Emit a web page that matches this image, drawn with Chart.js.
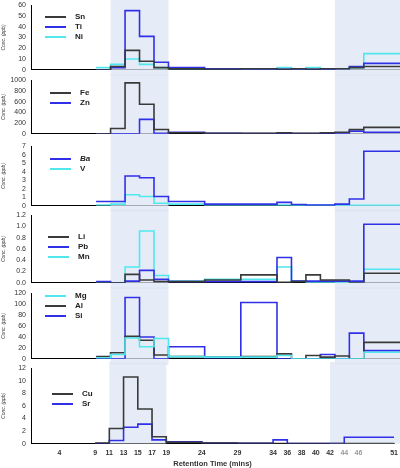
<!DOCTYPE html>
<html><head><meta charset="utf-8">
<script src="https://cdn.jsdelivr.net/npm/chart.js@4/dist/chart.umd.min.js"></script>
<style>
body{margin:0;background:#fff;width:400px;height:468px;overflow:hidden;font-family:"Liberation Sans",Arial,sans-serif}
.p{position:absolute;left:0;width:400px}
.lg{position:absolute;font-weight:bold;font-size:8px;color:#222}
.lg div{height:10px;line-height:10px;display:flex;align-items:center}
.lg span{display:inline-block;width:21px;height:2px;margin-right:9px}
</style></head><body>
<script>
const edges=[9,11,13,15,17,19,24,29,34,36,38,40,42,44,46,51];
const xTicks=[4,9,11,13,15,17,19,24,29,34,36,38,40,42,44,46,51];
const grayTicks=[44,46];
const shadeRanges=[[11,19],[42,51]];
const BLACK='#3a3a3a',BLUE='#3030e8',CYAN='#50e8ee';
// panel 1
const Sn=[0,3,18,8,2,1,0.5,1,0.5,1,0.5,1,1,2,3];
const Ti=[0,2,55,31,7,2,1,0.5,0.5,0.5,0.5,0.5,1,3,6];
const Ni=[2,5,10,5,2,1,1,0.5,2,0.5,2,0.5,1,2,15];
// panel 2
const Fe=[0,100,950,550,80,20,10,10,20,10,10,20,30,80,120];
const Zn=[0,0,0,270,10,30,10,5,10,5,5,5,5,50,30];
// panel 3
const Ba=[0.5,0.5,3.5,3.3,1.1,0.5,0.2,0.2,0.4,0.15,0.1,0.1,0.2,0.8,6.4];
const V=[0.1,0.2,1.3,1.1,0.3,0.2,0.1,0.1,0.1,0.05,0.05,0.05,0.05,0.05,0.05];
// panel 4
const Li=[0,0,0.15,0.05,0.02,0.02,0.05,0.14,0.01,0.02,0.14,0.05,0.05,0,0.17];
const Pb=[0.02,0,0.03,0.22,0.06,0.02,0.02,0.02,0.45,0.03,0.03,0.03,0.03,0.03,1.04];
const Mn=[0,0,0.28,0.92,0.13,0.03,0.06,0.06,0.28,0.03,0.01,0.01,0.01,0.01,0.24];
// panel 5
const Mg=[2,8,38,22,37,4,3,3,6,0,0,0,0,0,12];
const Al=[4,11,41,34,7,4,3,4,9,0,6,3,5,0,30];
const Si=[0,0,112,40,0,22,2,103,0,0,0,8,0,47,15];
// panel 6
const Cu=[0.1,2.4,10.6,5.5,1.1,0.2,0.1,0.05,0,0,0,0,0,0,0];
const Sr=[0,0.5,2.6,3.1,0.6,0.3,0.1,0.05,0.6,0,0,0,0,1,1];

const panels=[
 {top:5,bot:72,max:60,step:10,series:[['Sn',Sn,BLACK],['Ti',Ti,BLUE],['Ni',Ni,CYAN]],fmt:v=>v,lg:[45,12]},
 {top:80,bot:136,max:1000,step:200,series:[['Fe',Fe,BLACK],['Zn',Zn,BLUE]],fmt:v=>v,lg:[50,88]},
 {top:146,bot:208,max:7,step:1,series:[['Ba',Ba,BLUE],['V',V,CYAN]],fmt:v=>v,lg:[50,154]},
 {top:215,bot:285,max:1.2,step:0.2,series:[['Li',Li,BLACK],['Pb',Pb,BLUE],['Mn',Mn,CYAN]],fmt:v=>v.toFixed(1),lg:[48,232]},
 {top:293,bot:361,max:120,step:20,series:[['Mg',Mg,CYAN],['Al',Al,BLACK],['Si',Si,BLUE]],fmt:v=>v,lg:[45,291]},
 {top:368,bot:438,max:12,step:2,series:[['Cu',Cu,BLACK],['Sr',Sr,BLUE]],fmt:v=>v,lg:[52,389]}
];
function pts(vals){const p=[{x:edges[0],y:vals[0]}];vals.forEach((v,i)=>p.push({x:edges[i+1],y:v}));return p;}
const shade={id:'shade',beforeDatasetsDraw(c){const x=c.scales.x,a=c.chartArea,ctx=c.ctx;ctx.save();ctx.fillStyle='rgba(222,230,244,0.75)';
 const isLast=c.canvas.dataset.last==='1';
 shadeRanges.forEach(r=>{const x0=x.getPixelForValue(r[0]),x1=x.getPixelForValue(r[1]);ctx.fillRect(x0,0,(r[1]===51?c.width:x1)-x0,isLast?a.bottom:c.height);});ctx.restore();}};
panels.forEach((P,i)=>{
 const isLast=i===panels.length-1;
 const padT=6, h=(P.bot-P.top)+padT+(isLast?30:4);
 const d=document.createElement('div');d.className='p';d.style.top=(P.top-padT)+'px';d.style.height=h+'px';
 const cv=document.createElement('canvas');cv.dataset.last=isLast?'1':'0';d.appendChild(cv);document.body.appendChild(d);
 const lg=document.createElement('div');lg.className='lg';lg.style.left=P.lg[0]+'px';lg.style.top=P.lg[1]+'px';
 P.series.forEach(s=>{const r=document.createElement('div');r.innerHTML='<span style="background:'+s[2]+'"></span>'+(s[0]==='Ba'?'<i>Ba</i>':s[0]);lg.appendChild(r);});
 document.body.appendChild(lg);
 new Chart(cv,{type:'line',
  data:{datasets:P.series.map(s=>({label:s[0],data:pts(s[1]),borderColor:s[2],borderWidth:1.6,stepped:'after',pointRadius:0,fill:false}))},
  options:{responsive:true,maintainAspectRatio:false,animation:false,
   layout:{padding:{top:padT,right:isLast?4:0,left:0,bottom:isLast?0:1}},
   plugins:{legend:{display:false},tooltip:{enabled:false}},
   scales:{
    x:{type:'linear',min:0,max:51,grid:{display:false,drawTicks:isLast,tickLength:3},border:{color:'#000',width:1},
     afterBuildTicks:a=>{a.ticks=xTicks.map(v=>({value:v}));},
     ticks:{display:isLast,autoSkip:false,maxRotation:0,font:{size:7,weight:'bold'},padding:2,
      color:c=>grayTicks.includes(c.tick&&c.tick.value)?'#999':'#333',callback:v=>v},
     title:{display:isLast,text:'Retention Time (mins)',font:{size:7.5,weight:'bold'},color:'#333',padding:0}},
    y:{min:0,max:P.max,grid:{display:false,tickLength:3},border:{color:'#000',width:1},
     ticks:{stepSize:P.step,autoSkip:false,font:{size:7},color:'#333',padding:2,callback:v=>P.fmt(v)},
     title:{display:true,text:'Conc. (ppb)',font:{size:5,style:'italic'},color:'#333',padding:1},
     afterFit:a=>{a.width=31;}}
   }},plugins:[shade]});
});
</script></body></html>
